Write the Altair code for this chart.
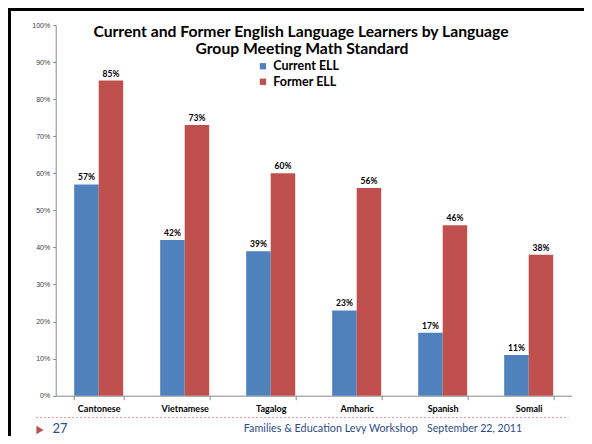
import altair as alt
import pandas as pd

languages = ["Cantonese", "Vietnamese", "Tagalog", "Amharic", "Spanish", "Somali"]
current_ell = [0.57, 0.42, 0.39, 0.23, 0.17, 0.11]
former_ell = [0.85, 0.73, 0.60, 0.56, 0.46, 0.38]
series = ["Current ELL", "Former ELL"]
colors = ["#4F81BD", "#C0504D"]
y_ticks = [0, 0.1, 0.2, 0.3, 0.4, 0.5, 0.6, 0.7, 0.8, 0.9, 1.0]
title_lines = ["Current and Former English Language Learners by Language",
               "Group Meeting Math Standard"]
footer_page = "27"
footer_event = "Families & Education Levy Workshop"
footer_date = "September 22, 2011"

rows = []
for lang, c, f in zip(languages, current_ell, former_ell):
    rows.append({"Language": lang, "Group": series[0], "Value": c})
    rows.append({"Language": lang, "Group": series[1], "Value": f})
df = pd.DataFrame(rows)

W, H = 516, 370.7
FONT = "Lato"

x_enc = alt.X("Language:N", sort=languages, title=None,
              scale=alt.Scale(paddingInner=0.43, paddingOuter=0.215),
              axis=alt.Axis(labelAngle=0, labelFont=FONT, labelFontSize=9,
                            labelFontWeight="bold", labelColor="#000000",
                            domainColor="#888888", tickColor="#888888",
                            tickSize=4, labelPadding=5, tickBand="extent"))
y_enc = alt.Y("Value:Q", title=None,
              scale=alt.Scale(domain=[0, 1], nice=False),
              axis=alt.Axis(values=y_ticks, format=".0%", grid=False,
                            labelFont="Liberation Sans", labelFontSize=7,
                            labelColor="#404040", domainColor="#888888",
                            tickColor="#888888", tickSize=3, labelPadding=3))
xo_enc = alt.XOffset("Group:N", sort=series, scale=alt.Scale(paddingInner=0))
color_enc = alt.Color("Group:N", sort=series,
                      scale=alt.Scale(domain=series, range=colors),
                      legend=alt.Legend(title=None, orient="none",
                                        legendX=201, legendY=35,
                                        symbolType="square", symbolSize=40,
                                        symbolStrokeWidth=0,
                                        labelFont=FONT, labelFontSize=12.5,
                                        labelFontWeight="bold",
                                        labelColor="#000000", rowPadding=2.5,
                                        labelOffset=4))

base = alt.Chart(df).encode(x=x_enc, xOffset=xo_enc, y=y_enc)
bars = base.mark_bar(size=24.5).encode(color=color_enc)
labels = base.mark_text(baseline="bottom", dy=-2, font=FONT, fontSize=8.5,
                        fontWeight="bold", color="#000000").encode(
    text=alt.Text("Value:Q", format=".0%"))

one = alt.Data(values=[{"k": 1}])
OX, OY = 55.7, 25  # plot origin on page

def tx(px):
    return px - OX

def ty(py):
    return py - OY

title1 = alt.Chart(one).mark_text(text=title_lines[0], font=FONT, fontSize=15.7,
                                  fontWeight="bold", color="#000000",
                                  align="center", baseline="middle").encode(
    x=alt.value(tx(301)), y=alt.value(ty(32)))
title2 = alt.Chart(one).mark_text(text=title_lines[1], font=FONT, fontSize=15.7,
                                  fontWeight="bold", color="#000000",
                                  align="center", baseline="middle").encode(
    x=alt.value(tx(302)), y=alt.value(ty(49)))

border_left = alt.Chart(one).mark_rule(color="#000000", strokeWidth=3).encode(
    x=alt.value(tx(9.5)), y=alt.value(ty(8)), y2=alt.value(ty(444)))
border_top = alt.Chart(one).mark_rule(color="#000000", strokeWidth=3).encode(
    x=alt.value(tx(8)), x2=alt.value(tx(592)), y=alt.value(ty(9.5)))

dash = alt.Chart(one).mark_rule(color="#E39A9A", strokeWidth=1,
                                strokeDash=[2, 2]).encode(
    x=alt.value(tx(36)), x2=alt.value(tx(568.6)), y=alt.value(ty(417.5)))
tri = alt.Chart(one).mark_point(shape="triangle-right", filled=True,
                                color="#C0504D", size=70, opacity=1).encode(
    x=alt.value(tx(40)), y=alt.value(ty(430)))
ft_page = alt.Chart(one).mark_text(text=footer_page, font=FONT, fontSize=13,
                                   color="#2E4C87", align="left",
                                   baseline="middle").encode(
    x=alt.value(tx(52.5)), y=alt.value(ty(429)))
ft_event = alt.Chart(one).mark_text(text=footer_event, font=FONT, fontSize=10.8,
                                    color="#2E4C87", align="left",
                                    baseline="middle").encode(
    x=alt.value(tx(243.7)), y=alt.value(ty(429)))
ft_date = alt.Chart(one).mark_text(text=footer_date, font=FONT, fontSize=10.6,
                                   color="#2E4C87", align="left",
                                   baseline="middle").encode(
    x=alt.value(tx(427)), y=alt.value(ty(429)))

chart = alt.layer(
    bars, labels, title1, title2, border_left, border_top, dash, tri,
    ft_page, ft_event, ft_date
).properties(
    width=W, height=H,
    autosize=alt.AutoSizeParams(type="none"),
    padding={"left": 47.7, "top": 17, "right": 12.3, "bottom": 40.3},
    background="#FFFFFF"
).configure_view(stroke=None)

chart.save("out.html", embed_options={"renderer": "svg", "actions": False})
